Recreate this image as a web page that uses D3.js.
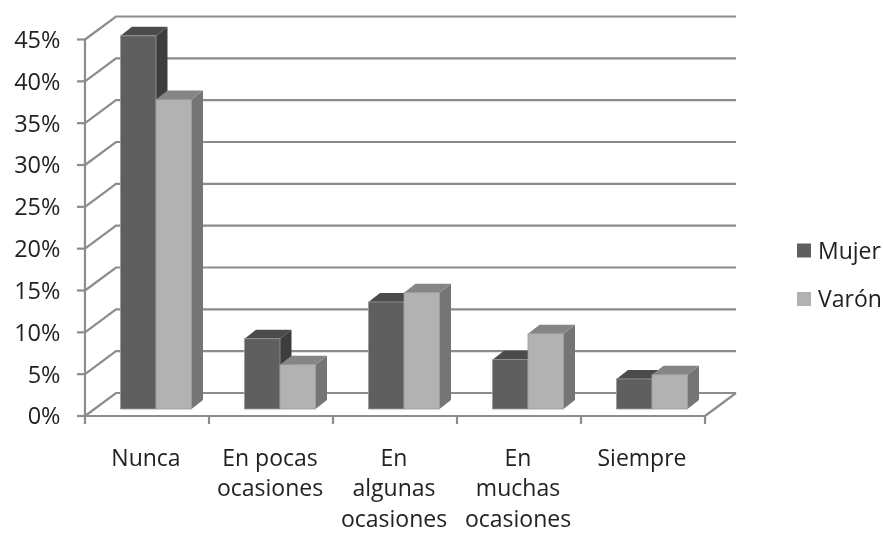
<!DOCTYPE html>
<html><head><meta charset="utf-8">
<script src="https://cdn.jsdelivr.net/npm/d3@7"></script>
<style>html,body{margin:0;padding:0;background:#fff}svg{display:block}text{font-family:"Open Sans",sans-serif;fill:#222}</style>
</head><body><svg id="c" width="883" height="534"></svg>
<script>
const categories=[["Nunca"],["En pocas","ocasiones"],["En","algunas","ocasiones"],["En","muchas","ocasiones"],["Siempre"]];
const seriesNames=["Mujer","Varón"];
const mujer=[44.6,8.4,12.8,5.9,3.6];
const varon=[37.0,5.3,13.9,9.0,4.1];
const yTicks=[0,5,10,15,20,25,30,35,40,45];
const palette=[{front:"#5f5f5f",top:"#4b4b4b",side:"#3e3e3e"},{front:"#b2b2b2",top:"#858585",side:"#757575"}];

const svg=d3.select("#c");
svg.append("defs").append("filter").attr("id","soft").append("feGaussianBlur").attr("stdDeviation",0.5);
const root=svg.append("g").attr("filter","url(#soft)");
const grid="#8c8c8c";
const x=d3.scaleBand().domain(d3.range(5)).range([85,705]);
const y=d3.scaleLinear().domain([0,45]).range([416,39.5]);
const wall={dx:31,dy:-23};
const barOff={dx:8.5,dy:-7};
const depth={dx:11.5,dy:-9};
const barW=35.5, barInset=27;

yTicks.forEach(t=>{
  const yy=y(t);
  const pts=[[85,yy],[85+wall.dx,yy+wall.dy],[705+wall.dx,yy+wall.dy]];
  root.append("path").attr("d",d3.line()(pts)).attr("fill","none").attr("stroke",grid).attr("stroke-width",2.2);
  root.append("line").attr("x1",77).attr("x2",85).attr("y1",yy).attr("y2",yy).attr("stroke",grid).attr("stroke-width",2.2);
  root.append("text").attr("x",60.5).attr("y",yy).attr("dy","0.36em").attr("text-anchor","end").attr("font-size",23.5).text(t+"%");
});
root.append("line").attr("x1",85).attr("x2",85).attr("y1",y(45)).attr("y2",424).attr("stroke",grid).attr("stroke-width",2.2);
root.append("line").attr("x1",85).attr("x2",705).attr("y1",416).attr("y2",416).attr("stroke",grid).attr("stroke-width",2.2);
root.append("line").attr("x1",705).attr("x2",736).attr("y1",416).attr("y2",393).attr("stroke",grid).attr("stroke-width",2.2);
d3.range(1,6).forEach(i=>{
  const xx=i<5?x(i):705;
  root.append("line").attr("x1",xx).attr("x2",xx).attr("y1",416).attr("y2",424).attr("stroke",grid).attr("stroke-width",2.2);
});

const base=y(0)+barOff.dy;
const h=v=>y(0)-y(v);
function bar(cat,s,v){
  const x0=x(cat)+barInset+barOff.dx+s*barW, x1=x0+barW, top=base-h(v);
  const c=palette[s];
  const g=root.append("g");
  g.append("path").attr("d",d3.line()([[x1,top],[x1+depth.dx,top+depth.dy],[x1+depth.dx,base+depth.dy],[x1,base]])).attr("fill",c.side);
  g.append("path").attr("d",d3.line()([[x0,top],[x0+depth.dx,top+depth.dy],[x1+depth.dx,top+depth.dy],[x1,top]])).attr("fill",c.top);
  g.append("rect").attr("x",x0).attr("y",top).attr("width",barW).attr("height",base-top).attr("fill",c.front).attr("stroke","#9a9a9a").attr("stroke-width",0.8);
}
categories.forEach((_,i)=>{bar(i,0,mujer[i]);bar(i,1,varon[i]);});

categories.forEach((lines,i)=>{
  const t=root.append("text").attr("text-anchor","middle").attr("font-size",23);
  lines.forEach((l,j)=>t.append("tspan").attr("x",x(i)+x.bandwidth()/2-1).attr("y",465.5+j*30.6).text(l));
});

seriesNames.forEach((n,i)=>{
  const cy=250.5+i*48.5;
  root.append("rect").attr("x",797).attr("y",cy-7).attr("width",14).attr("height",14).attr("fill",palette[i].front);
  root.append("text").attr("x",818).attr("y",cy).attr("dy","0.36em").attr("font-size",23).text(n);
});
</script></body></html>
